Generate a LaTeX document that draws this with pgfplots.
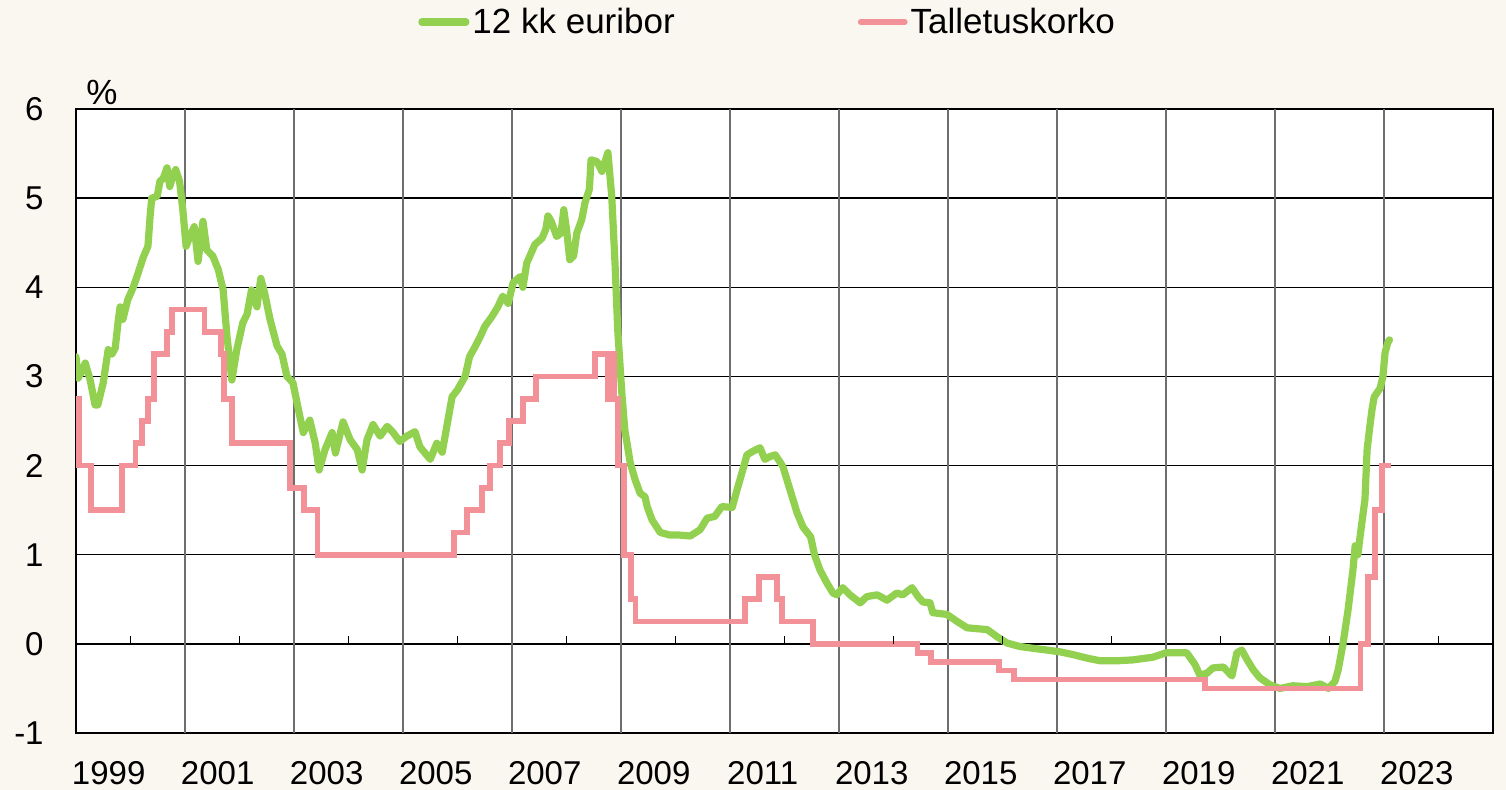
\documentclass[border=0pt]{standalone}
\usepackage{fontspec}
\setmainfont{Liberation Sans}
\usepackage{pgfplots}
\pgfplotsset{compat=1.18}
\usetikzlibrary{backgrounds}
\definecolor{bg}{HTML}{FAF6F0}
\definecolor{eurgreen}{HTML}{92D050}
\definecolor{depink}{HTML}{F29198}
\definecolor{gridgray}{HTML}{6E6E6E}
\begin{document}
\begin{tikzpicture}
\begin{axis}[
  scale only axis, width=708.5pt, height=312pt,
  xmin=1999, xmax=2025, ymin=-1, ymax=6,
  axis background/.style={fill=white},
  axis line style={line width=1.2pt, black},
  xtick={1999.6,2001.6,2003.6,2005.6,2007.6,2009.6,2011.6,2013.6,2015.6,2017.6,2019.6,2021.6,2023.6},
  xticklabels={1999,2001,2003,2005,2007,2009,2011,2013,2015,2017,2019,2021,2023},
  ytick={-1,0,1,2,3,4,5,6},
  yticklabels={-1,0,1,2,3,4,5,6},
  major tick length=0pt,
  ymajorgrids,
  grid style={black, line width=0.75pt},
  extra x ticks={2001,2003,2005,2007,2009,2011,2013,2015,2017,2019,2021,2023},
  extra x tick labels={},
  extra x tick style={grid=major, major grid style={gridgray, line width=0.9pt}},
  tick label style={font=\fontsize{16.5}{19}\selectfont},
  xticklabel style={anchor=north, inner sep=0pt, yshift=-14pt},
  yticklabel style={anchor=east, inner sep=0pt, xshift=-16pt},
  legend columns=2,
  legend style={at={(axis description cs:0.4884,1.1394)}, anchor=center,
    draw=none, fill=none, inner xsep=0pt, inner ysep=0pt,
    font=\fontsize{17.5}{20}\selectfont,
    nodes={inner sep=1.5pt},
    /tikz/every even column/.append style={column sep=90pt}},
  legend image code/.code={\draw[#1, line cap=round] (0pt,0pt) -- (22pt,0pt);},
]
\addplot[eurgreen, line width=3.6pt, line join=round, line cap=round] coordinates {
(1999.00,3.22) (1999.04,2.98) (1999.10,3.05) (1999.17,3.15) (1999.26,2.96)
(1999.35,2.68) (1999.40,2.68) (1999.50,2.93) (1999.59,3.30) (1999.66,3.25)
(1999.72,3.32) (1999.78,3.65) (1999.81,3.78) (1999.86,3.64) (1999.95,3.86)
(2000.05,4.00) (2000.14,4.16) (2000.23,4.33) (2000.32,4.46) (2000.36,4.80)
(2000.39,5.00) (2000.49,5.02) (2000.54,5.19) (2000.60,5.22) (2000.67,5.34)
(2000.72,5.13) (2000.78,5.25) (2000.83,5.32) (2000.90,5.19) (2000.96,4.87)
(2001.02,4.46) (2001.09,4.57) (2001.17,4.68) (2001.24,4.29) (2001.33,4.74)
(2001.40,4.42) (2001.51,4.35) (2001.61,4.20) (2001.70,3.97) (2001.77,3.45)
(2001.86,2.96) (2001.95,3.30) (2002.06,3.60) (2002.14,3.70) (2002.22,3.97)
(2002.32,3.78) (2002.39,4.10) (2002.46,3.94) (2002.56,3.64) (2002.69,3.34)
(2002.78,3.25) (2002.87,3.00) (2002.98,2.93) (2003.07,2.66) (2003.17,2.37)
(2003.29,2.51) (2003.39,2.25) (2003.46,1.95) (2003.57,2.18) (2003.70,2.37)
(2003.76,2.14) (2003.90,2.49) (2004.03,2.29) (2004.16,2.18) (2004.25,1.95)
(2004.34,2.29) (2004.45,2.46) (2004.58,2.33) (2004.71,2.44) (2004.82,2.37)
(2004.94,2.27) (2005.07,2.33) (2005.22,2.38) (2005.31,2.21) (2005.50,2.07)
(2005.62,2.25) (2005.72,2.15) (2005.81,2.46) (2005.90,2.77) (2006.00,2.85)
(2006.14,3.00) (2006.22,3.22) (2006.32,3.33) (2006.42,3.45) (2006.50,3.56)
(2006.63,3.67) (2006.74,3.78) (2006.83,3.90) (2006.93,3.82) (2007.02,4.05)
(2007.15,4.12) (2007.20,4.00) (2007.27,4.27) (2007.42,4.48) (2007.55,4.55)
(2007.62,4.65) (2007.66,4.80) (2007.72,4.74) (2007.82,4.57) (2007.90,4.61)
(2007.95,4.87) (2008.00,4.65) (2008.06,4.31) (2008.13,4.35) (2008.19,4.61)
(2008.28,4.76) (2008.34,4.95) (2008.42,5.10) (2008.45,5.43) (2008.56,5.41)
(2008.65,5.30) (2008.76,5.51) (2008.83,5.02) (2008.89,4.27) (2008.94,3.52)
(2009.02,2.77) (2009.07,2.40) (2009.17,2.03) (2009.26,1.84) (2009.35,1.69)
(2009.44,1.65) (2009.48,1.54) (2009.57,1.39) (2009.72,1.25) (2009.90,1.22)
(2010.08,1.22) (2010.27,1.21) (2010.45,1.28) (2010.58,1.41) (2010.72,1.43)
(2010.85,1.54) (2011.04,1.53) (2011.13,1.73) (2011.22,1.92) (2011.31,2.12)
(2011.42,2.16) (2011.55,2.20) (2011.64,2.07) (2011.73,2.10) (2011.83,2.12)
(2011.97,1.99) (2012.10,1.73) (2012.23,1.47) (2012.34,1.31) (2012.48,1.20)
(2012.55,1.00) (2012.65,0.83) (2012.78,0.68) (2012.89,0.57) (2012.96,0.55)
(2013.07,0.63) (2013.20,0.55) (2013.39,0.46) (2013.51,0.53) (2013.70,0.55)
(2013.88,0.49) (2014.06,0.57) (2014.17,0.55) (2014.34,0.63) (2014.45,0.53)
(2014.54,0.47) (2014.67,0.46) (2014.72,0.35) (2014.98,0.33) (2015.17,0.25)
(2015.35,0.18) (2015.72,0.16) (2015.90,0.08) (2016.08,0.01) (2016.32,-0.03)
(2016.56,-0.05) (2016.82,-0.07) (2017.06,-0.09) (2017.29,-0.12) (2017.55,-0.16)
(2017.79,-0.19) (2018.10,-0.19) (2018.39,-0.18) (2018.76,-0.15) (2019.00,-0.10)
(2019.38,-0.10) (2019.53,-0.23) (2019.62,-0.35) (2019.75,-0.33) (2019.86,-0.27)
(2020.05,-0.26) (2020.21,-0.36) (2020.30,-0.10) (2020.39,-0.07) (2020.49,-0.18)
(2020.60,-0.29) (2020.72,-0.38) (2020.91,-0.46) (2021.09,-0.50) (2021.33,-0.47)
(2021.59,-0.48) (2021.83,-0.45) (2021.98,-0.50) (2022.10,-0.42) (2022.16,-0.29)
(2022.25,0.01) (2022.34,0.38) (2022.43,0.83) (2022.47,1.10) (2022.52,1.00)
(2022.56,1.20) (2022.65,1.62) (2022.69,2.18) (2022.74,2.44) (2022.78,2.63)
(2022.82,2.77) (2022.93,2.87) (2022.98,3.00) (2023.02,3.27) (2023.07,3.38)
(2023.10,3.41)
};
\addlegendentry{12 kk euribor}
\addplot[depink, line width=2.9pt, const plot] coordinates {
(1999.000,2.75) (1999.058,2.00) (1999.268,1.50) (1999.847,2.00) (2000.093,2.25)
(2000.208,2.50) (2000.323,2.75) (2000.438,3.25) (2000.668,3.50) (2000.764,3.75)
(2001.356,3.50) (2001.663,3.25) (2001.712,2.75) (2001.855,2.25) (2002.929,1.75)
(2003.181,1.50) (2003.430,1.00) (2005.929,1.25) (2006.181,1.50) (2006.452,1.75)
(2006.603,2.00) (2006.775,2.25) (2006.948,2.50) (2007.197,2.75) (2007.447,3.00)
(2008.519,3.25) (2008.768,2.75) (2008.771,3.25) (2008.866,2.75) (2008.942,2.00)
(2009.055,1.00) (2009.189,0.50) (2009.266,0.25) (2011.279,0.50) (2011.529,0.75)
(2011.855,0.50) (2011.951,0.25) (2012.525,0.00) (2014.441,-0.10) (2014.690,-0.20)
(2015.937,-0.30) (2016.205,-0.40) (2019.712,-0.50) (2022.567,0.00) (2022.701,0.75)
(2022.836,1.50) (2022.970,2.00) (2023.120,2.00)
};
\addlegendentry{Talletuskorko}
\pgfplotsinvokeforeach{2000,2002,...,2024}{\draw[black, line width=0.6pt] (axis cs:#1,0) -- ++(0pt,4pt);}
\coordinate (sw) at (rel axis cs:0,0);
\coordinate (ne) at (rel axis cs:1,1);
\coordinate (nw) at (rel axis cs:0,1);
\end{axis}
\node[anchor=south west, inner sep=0pt, font=\fontsize{17.5}{20}\selectfont] at ([xshift=5pt, yshift=2pt]nw) {\%};
\begin{scope}[on background layer]
\fill[bg] ([shift={(-38pt,-28.5pt)}]sw) rectangle ([shift={(6.5pt,54.5pt)}]ne);
\end{scope}
\pgfresetboundingbox
\path[use as bounding box] ([shift={(-38pt,-28.5pt)}]sw) rectangle ([shift={(6.5pt,54.5pt)}]ne);
\end{tikzpicture}
\end{document}
